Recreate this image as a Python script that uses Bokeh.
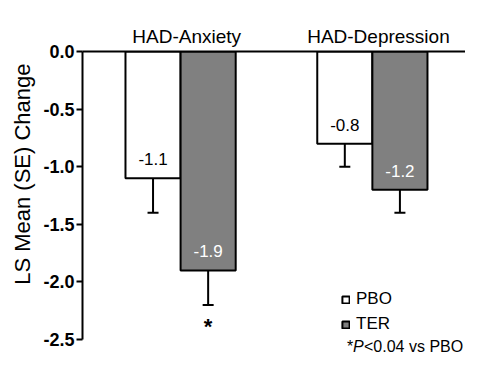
from bokeh.plotting import figure
from bokeh.core.properties import value
from bokeh.models import (Range1d, ColumnDataSource, LabelSet, Label, Whisker, TeeHead,
                          FixedTicker, Legend, LegendItem, Title)
from bokeh.embed import file_html
from bokeh.resources import INLINE

# ---- data ----
groups = ["HAD-Anxiety", "HAD-Depression"]
series = ["PBO", "TER"]
pbo_mean = [-1.1, -0.8]
ter_mean = [-1.9, -1.2]
pbo_se = [0.3, 0.2]
ter_se = [0.3, 0.2]
ter_sig = ["*", ""]
y_ticks = [0.0, -0.5, -1.0, -1.5, -2.0, -2.5]
footnote = ["*", "P", "<0.04 vs PBO"]

# ---- layout helpers ----
group_centers = [1.78, 5.26]
bar_w = 1.0
FONT = "Arial"

W, H = 465, 354
p = figure(width=W, height=H, output_backend="svg", toolbar_location=None,
           x_range=Range1d(0, 6.95), y_range=Range1d(-2.63, 0),
           x_axis_location="above",
           min_border_left=82, min_border_right=0, min_border_top=51, min_border_bottom=0)
p.outline_line_color = None
p.xgrid.visible = False
p.ygrid.visible = False
p.background_fill_color = "white"

# top axis: line at y = 0 with the group titles
xa = p.xaxis[0]
xa.ticker = FixedTicker(ticks=[c + 0.11 for c in group_centers])
xa.major_label_overrides = {c + 0.11: g for c, g in zip(group_centers, groups)}
xa.major_label_text_font = FONT
xa.major_label_text_font_size = "19px"
xa.major_label_text_color = "black"
xa.major_label_standoff = 5
xa.major_tick_in = 0
xa.major_tick_out = 0
xa.major_tick_line_color = None
xa.minor_tick_line_color = None
xa.axis_line_width = 2
xa.axis_line_color = "black"

ya = p.yaxis[0]
ya.bounds = (-2.5, 0)
ya.ticker = FixedTicker(ticks=y_ticks)
ya.major_label_overrides = {t: f"{t:.1f}" for t in y_ticks}
ya.major_label_text_font = FONT
ya.major_label_text_font_style = "bold"
ya.major_label_text_font_size = "18px"
ya.major_label_text_color = "black"
ya.axis_line_width = 2
ya.axis_line_color = "black"
ya.major_tick_line_width = 2
ya.major_tick_in = 0
ya.major_tick_out = 6
ya.minor_tick_line_color = None
ya.major_label_standoff = 2

# y axis title
p.add_layout(Title(text="LS Mean (SE) Change", align="right", offset=12,
                   text_font=FONT, text_font_size="22px", text_font_style="normal",
                   text_color="black", standoff=12), "left")

pbo_x = [c - bar_w / 2 for c in group_centers]
ter_x = [c + bar_w / 2 for c in group_centers]

src_pbo = ColumnDataSource(dict(x=pbo_x, top=pbo_mean, lower=[m - s for m, s in zip(pbo_mean, pbo_se)],
                                txt=[f"{m:.1f}" for m in pbo_mean]))
src_ter = ColumnDataSource(dict(x=ter_x, top=ter_mean, lower=[m - s for m, s in zip(ter_mean, ter_se)],
                                txt=[f"{m:.1f}" for m in ter_mean], sig=ter_sig))

r_pbo = p.vbar(x="x", top="top", bottom=0, width=bar_w, source=src_pbo,
               fill_color="white", line_color="black", line_width=2)
r_ter = p.vbar(x="x", top="top", bottom=0, width=bar_w, source=src_ter,
               fill_color="#808080", line_color="black", line_width=2)

for src in (src_pbo, src_ter):
    w = Whisker(base="x", upper="top", lower="lower", source=src, dimension="height",
                line_color="black", line_width=2, upper_head=None,
                lower_head=TeeHead(size=11, line_color="black", line_width=2))
    p.add_layout(w)

p.add_layout(LabelSet(x="x", y="top", text="txt", source=src_pbo, y_offset=19,
                      text_align="center", text_baseline="middle", text_color="black",
                      text_font=value(FONT), text_font_size="17px"))
p.add_layout(LabelSet(x="x", y="top", text="txt", source=src_ter, y_offset=19,
                      text_align="center", text_baseline="middle", text_color="white",
                      text_font=value(FONT), text_font_size="17px"))
p.add_layout(LabelSet(x="x", y="lower", text="sig", source=src_ter, y_offset=-9,
                      text_align="center", text_baseline="top", text_color="black",
                      text_font=value(FONT), text_font_style="bold", text_font_size="22px"))

# legend
legend = Legend(items=[LegendItem(label=series[0], renderers=[r_pbo]),
                       LegendItem(label=series[1], renderers=[r_ter])],
                location=(259, 20), glyph_width=9, glyph_height=9, label_height=20,
                spacing=5, label_standoff=6, padding=0, margin=0,
                border_line_color=None, background_fill_alpha=0,
                label_text_font=FONT, label_text_font_size="17px", label_text_color="black")
p.add_layout(legend)

# footnote (inside the extended frame, below the -2.5 tick)
fx, fy = 4.8, -2.561
p.add_layout(Label(x=fx, y=fy, text=footnote[0],
                   text_font=FONT, text_font_size="16px",
                   text_baseline="middle", text_color="black"))
p.add_layout(Label(x=fx, y=fy, x_offset=6, text=footnote[1],
                   text_font=FONT, text_font_size="16px", text_font_style="italic",
                   text_baseline="middle", text_color="black"))
p.add_layout(Label(x=fx, y=fy, x_offset=17, text=footnote[2],
                   text_font=FONT, text_font_size="16px",
                   text_baseline="middle", text_color="black"))

open("out.html", "w").write(file_html(p, INLINE))
